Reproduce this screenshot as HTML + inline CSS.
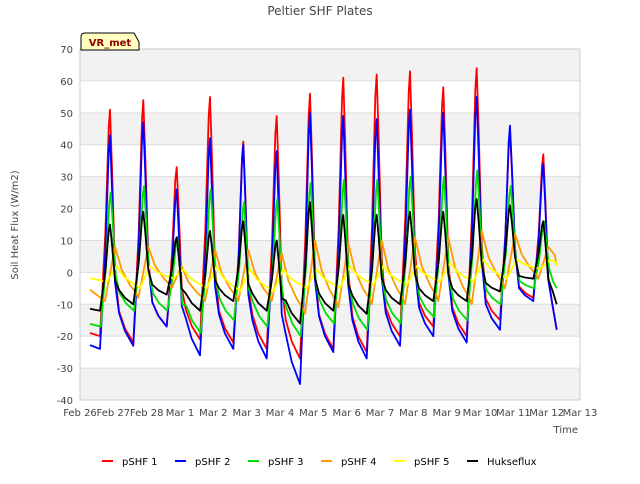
<!DOCTYPE html>
<html><head><meta charset="utf-8"><style>
body{margin:0;background:#fff;font-family:"DejaVu Sans",sans-serif}
</style></head><body>
<svg width="640" height="480" xmlns="http://www.w3.org/2000/svg" font-family="DejaVu Sans, sans-serif">
<rect width="640" height="480" fill="#fff"/>
<g id="bands"></g>
<g id="grid"></g>
<g id="series"></g>
<rect x="80" y="49" width="500" height="351" fill="none" stroke="#ccc"/>
<g id="axes" font-size="10" fill="#444"></g>
<text x="320" y="15" text-anchor="middle" font-size="12" fill="#444">Peltier SHF Plates</text>
<text x="18" y="225" text-anchor="middle" font-size="10" fill="#444" transform="rotate(-90 18 225)">Soil Heat Flux (W/m2)</text>
<text x="578" y="433" text-anchor="end" font-size="10" fill="#444">Time</text>
<g>
<path d="M81,50 L81,37 Q81,33 85,33 L134,33 L139,42 L139,50 Z" fill="#ffffc0" stroke="#000"/>
<text x="110" y="46" text-anchor="middle" font-size="10" font-weight="bold" fill="#8b0000">VR_met</text>
</g>
<g id="legend" font-size="10" fill="#000"></g>
</svg>
<script>
const xTicks=["Feb 26","Feb 27","Feb 28","Mar 1","Mar 2","Mar 3","Mar 4","Mar 5","Mar 6","Mar 7","Mar 8","Mar 9","Mar 10","Mar 11","Mar 12","Mar 13"];
const yTicks=[-40,-30,-20,-10,0,10,20,30,40,50,60,70];
const names=["pSHF 1","pSHF 2","pSHF 3","pSHF 4","pSHF 5","Hukseflux"];
const colors=["#ff0000","#0000ff","#00dd00","#ff9900","#ffff00","#000000"];
const peaks1=[51,54,33,55,41,49,56,61,62,63,58,64,44,37];
const troughs1=[-20,-22,-17,-21,-22,-24,-27,-24,-25,-20,-17,-20,-15,-8,-18];
const peaks2=[43,47,26,42,40,38,50,49,48,51,50,55,46,34];
const troughs2=[-24,-23,-17,-26,-24,-27,-35,-25,-27,-23,-20,-22,-18,-9,-18];
const peaks3=[25,27,11,26,22,23,28,29,29,30,30,32,27,16];
const troughs3=[-17,-12,-12,-19,-15,-17,-20,-16,-18,-16,-14,-15,-10,-5,-5];
const peaks4=[8,8,2,7,7,6,10,9,10,11,11,13,12,8];
const troughs4=[-9,-8,-5,-9,-9,-9,-13,-11,-10,-10,-9,-10,-5,-2,2];
const peaks5=[2,2,1,2,1,1,1,2,2,2,3,4,4,4];
const troughs5=[-3,-5,-2,-5,-6,-6,-5,-5,-4,-4,-3,-3,-2,1,2];
const peaksH=[15,19,11,13,16,10,22,18,18,19,19,23,21,16];
const troughsH=[-12,-10,-7,-12,-9,-12,-16,-12,-13,-10,-9,-9,-6,-2,-10];
const allPeaks=[peaks1,peaks2,peaks3,peaks4,peaks5,peaksH];
const allTroughs=[troughs1,troughs2,troughs3,troughs4,troughs5,troughsH];
const ns="http://www.w3.org/2000/svg";
const X=d=>80+d*500/15, Y=v=>49+(70-v)*351/110;
function mk(t,a,p){const e=document.createElementNS(ns,t);for(const k in a)e.setAttribute(k,a[k]);p.appendChild(e);return e;}
const bands=document.getElementById('bands'),grid=document.getElementById('grid'),axes=document.getElementById('axes');
for(let i=0;i<yTicks.length-1;i+=2){
 const r=mk('rect',{x:80,y:Y(yTicks[i+1]),width:500,height:Y(yTicks[i])-Y(yTicks[i+1]),fill:'#f2f2f2'},bands);
 
 
}
yTicks.forEach(v=>{
 const l=mk('line',{x1:80,x2:580,y1:Y(v),y2:Y(v),stroke:'#ddd'},grid);
 
 
 const t=mk('text',{x:73,y:Y(v)+4,'text-anchor':'end'},axes);t.textContent=v;
 
 
});
xTicks.forEach((s,i)=>{
 const t=mk('text',{x:X(i),y:416,'text-anchor':'middle'},axes);t.textContent=s;
 
 
});
const phase=[0.9,0.9,0.92,1.05,1.1,0.9];
const END=14.3;
const sg=document.getElementById('series');
allPeaks.forEach((pk,s)=>{
 const tr=allTroughs[s],ph=phase[s],pts=[];
 const slow=s===3||s===4;
 pts.push([0.3,tr[0]*(slow?0.6:0.95)]);
 pk.forEach((p,i)=>{
  if(slow){
   pts.push([i+ph-0.3,tr[i]]);
   pts.push([i+ph-0.12,tr[i]+(p-tr[i])*0.6]);
   pts.push([i+ph,p]);
   pts.push([i+ph+0.2,tr[i+1]+(p-tr[i+1])*0.55]);
   pts.push([i+ph+0.45,tr[i+1]+(p-tr[i+1])*0.25]);
   pts.push([i+ph+0.65,tr[i+1]+(p-tr[i+1])*0.08]);
  }else{
   pts.push([i+ph-0.3,tr[i]]);
   pts.push([i+ph-0.14,tr[i]+(p-tr[i])*0.45]);
   pts.push([i+ph-0.04,tr[i]+(p-tr[i])*0.92]);
   pts.push([i+ph,p]);
   pts.push([i+ph+0.06,tr[i+1]+(p-tr[i+1])*0.75]);
   pts.push([i+ph+0.15,tr[i+1]+(p-tr[i+1])*0.3]);
   pts.push([i+ph+0.27,tr[i+1]*0.55]);
   pts.push([i+ph+0.45,tr[i+1]*0.8]);
  }
 });
 const fp=pts.filter(q=>q[0]<END);
 fp.push([END,tr[tr.length-1]]);
 const d=fp.map((q,i)=>(i?'L':'M')+X(q[0]).toFixed(1)+','+Y(q[1]).toFixed(1)).join('');
 const p=mk('path',{d:d,fill:'none',stroke:colors[s],'stroke-width':1.8,'stroke-linejoin':'round'},sg);
 
 
});
const lg=document.getElementById('legend');
names.forEach((n,i)=>{
 const x0=102+i*73;
 const g=mk('g',{},lg);
 
 
 mk('line',{x1:x0,x2:x0+11,y1:461,y2:461,stroke:colors[i],'stroke-width':2},g);
 const t=mk('text',{x:x0+20,y:465},g);t.textContent=n;
});
</script>
</body></html>
